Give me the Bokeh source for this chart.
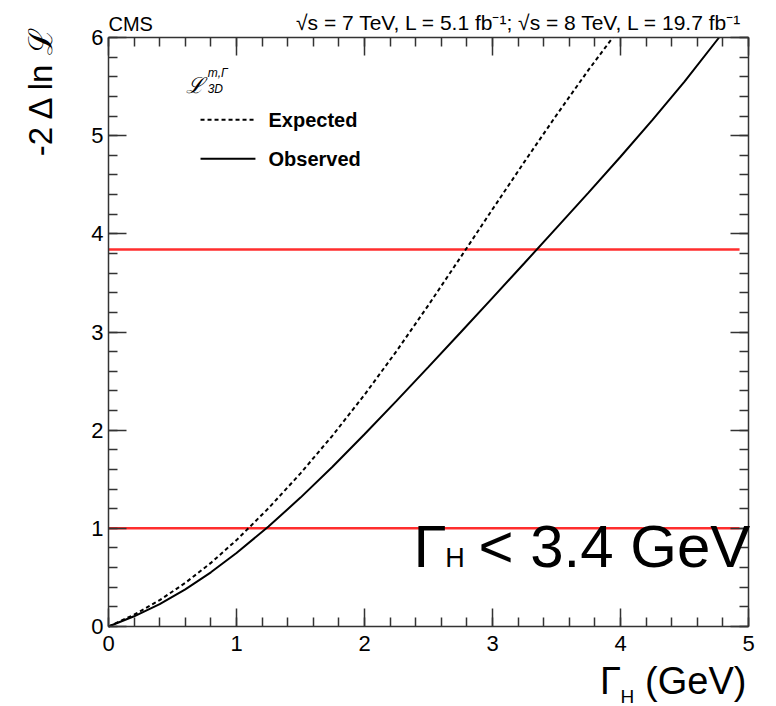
import math
from bokeh.plotting import figure
from bokeh.models import Range1d, LinearAxis, SingleIntervalTicker, Label
from bokeh.embed import file_html
from bokeh.resources import INLINE

# ---- data ----
gamma_obs = [0, 0.2, 0.4, 0.6, 0.8, 1.0, 1.25, 1.5, 1.75, 2.0, 2.25, 2.5, 2.75, 3.0, 3.25, 3.5, 3.75, 4.0, 4.25, 4.5, 4.77]
nll_obs = [0, 0.104, 0.228, 0.378, 0.552, 0.748, 1.018, 1.313, 1.628, 1.958, 2.298, 2.645, 2.995, 3.348, 3.703, 4.06, 4.42, 4.785, 5.16, 5.55, 6.0]
gamma_exp = [0, 0.2, 0.4, 0.6, 0.8, 1.0, 1.25, 1.5, 1.75, 2.0, 2.25, 2.5, 2.75, 3.0, 3.25, 3.5, 3.75, 3.94]
nll_exp = [0, 0.12, 0.268, 0.444, 0.648, 0.88, 1.205, 1.56, 1.945, 2.36, 2.805, 3.275, 3.76, 4.25, 4.735, 5.21, 5.67, 6.0]
cl_levels = [1.0, 3.84]
cl_x = [0.0, 4.93]
x_bounds = (0, 5)
y_bounds = (0, 6)

FONT = "Liberation Sans"
W, H = 776, 706
# pixel position of the drawn box: x 108..748, y 37..626
PX_X0, PX_X1, PX_Y0, PX_Y1 = 108, 748, 626, 37
sx = (PX_X1 - PX_X0) / (x_bounds[1] - x_bounds[0])
sy = (PX_Y0 - PX_Y1) / (y_bounds[1] - y_bounds[0])
xr = Range1d(x_bounds[0] - PX_X0 / sx, x_bounds[0] + (W - PX_X0) / sx)
yr_ = Range1d(y_bounds[0] - (H - PX_Y0) / sy, y_bounds[0] + PX_Y0 / sy)

p = figure(width=W, height=H, output_backend="svg", toolbar_location=None,
           x_range=xr, y_range=yr_,
           min_border_left=0, min_border_right=0, min_border_top=0, min_border_bottom=0,
           x_axis_location=None, y_axis_location=None)
p.xgrid.visible = False
p.ygrid.visible = False
p.outline_line_color = None
p.background_fill_color = "white"
p.border_fill_color = "white"

def make_axis(show_labels, loc, bounds):
    ax = LinearAxis(ticker=SingleIntervalTicker(interval=1, num_minor_ticks=5),
                    fixed_location=loc, bounds=bounds)
    ax.axis_line_color = "#333333"
    ax.axis_line_width = 1.5
    ax.major_tick_line_color = "#333333"
    ax.minor_tick_line_color = "#333333"
    ax.major_tick_line_width = 1.5
    ax.minor_tick_line_width = 1.5
    ax.major_tick_in = 18
    ax.major_tick_out = 0
    ax.minor_tick_in = 9
    ax.minor_tick_out = 0
    ax.major_label_text_font = FONT
    ax.major_label_text_font_size = "22px"
    ax.major_label_text_color = "black" if show_labels else None
    return ax

xb = make_axis(True, y_bounds[0], x_bounds)
xb.major_label_standoff = 9
p.add_layout(xb, "below")
yl = make_axis(True, x_bounds[0], y_bounds)
yl.major_label_standoff = 5
p.add_layout(yl, "left")
xt = make_axis(False, y_bounds[1], x_bounds)
p.add_layout(xt, "above")
yrx = make_axis(False, x_bounds[1], y_bounds)
p.add_layout(yrx, "right")

# red lines
for lvl in cl_levels:
    p.line(cl_x, [lvl, lvl], line_color="#ff2e2e", line_width=2.5)

# curves
p.line(gamma_exp, nll_exp, line_color="black", line_width=2, line_dash="4 3")
p.line(gamma_obs, nll_obs, line_color="black", line_width=2)

# legend lines
p.line([0.719, 1.148], [5.163, 5.163], line_color="black", line_width=2, line_dash="4 3")
p.line([0.719, 1.148], [4.766, 4.766], line_color="black", line_width=2)

def lab(x, y, text, size, align="left", style="normal", angle=0.0, font=FONT):
    p.add_layout(Label(x=x, y=y, text=text, text_font=font, text_font_size=size,
                       text_align=align, text_baseline="middle", text_font_style=style,
                       text_color="black", angle=angle))

# legend
lab(0.607, 5.514, "ℒ", "22px", style="italic", font="DejaVu Serif")
lab(0.775, 5.636, "m,Γ", "12px", style="italic")
lab(0.775, 5.479, "3D", "12px", style="italic")
lab(1.25, 5.163, "Expected", "20px", style="bold")
lab(1.25, 4.766, "Observed", "20px", style="bold")

# header texts
lab(0.0, 6.135, "CMS", "20px")
lab(4.953, 6.15, "√s = 7 TeV, L = 5.1 fb⁻¹; √s = 8 TeV, L = 19.7 fb⁻¹", "21px", align="right")

# y axis title
lab(-0.531, 6.13, "-2 Δ ln ℒ", "33px", align="right", angle=math.pi / 2)

# x axis title
lab(3.84, -0.56, "Γ", "38px")
lab(4.0, -0.718, "H", "19px")
lab(4.984, -0.56, "(GeV)", "38px", align="right")

# big annotation
lab(2.383, 0.81, "Γ", "60px")
lab(2.63, 0.70, "H", "27px")
lab(2.89, 0.81, "< 3.4 GeV", "60px")

open("out.html", "w").write(file_html(p, INLINE))
